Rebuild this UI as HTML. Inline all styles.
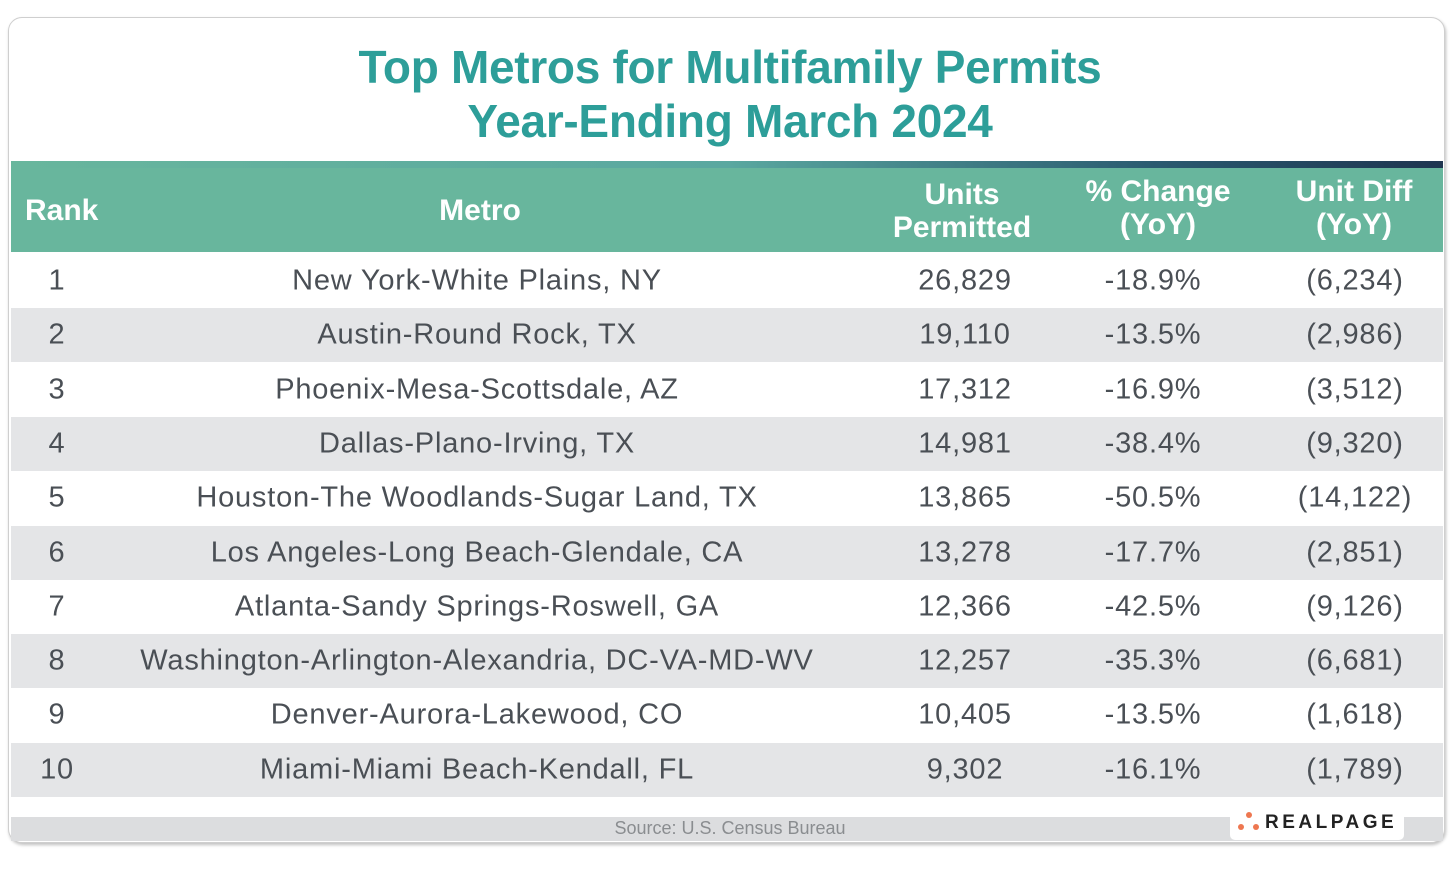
<!DOCTYPE html>
<html><head><meta charset="utf-8"><style>
body{margin:0;width:1455px;height:875px;background:#fff;position:relative;overflow:hidden;font-family:"Liberation Sans",sans-serif}
.card{position:absolute;left:8px;top:17px;width:1435px;height:824px;border-radius:14px;border:1px solid #cfcfcf;box-shadow:1px 2px 3px rgba(0,0,0,.25);overflow:hidden;background:#fff}
.title{position:absolute;left:0;width:1460px;text-align:center;color:#2d9e99;font-weight:bold;font-size:46px;letter-spacing:-0.3px}
.bar{position:absolute;left:11px;width:1432px;top:161px;height:7px;background:linear-gradient(90deg,#68b69d,#5aa8a0 50%,#2a5a70 80%,#1e3550)}
.hdr{position:absolute;left:11px;width:1432px;top:168px;height:84px;background:#68b69d}
.h{position:absolute;color:#fff;font-weight:bold;font-size:30px;text-align:center;line-height:33px}
.row{position:absolute;left:11px;width:1432px;height:54px}
.g{background:#e4e5e7}
.c{position:absolute;color:#4a4f55;font-size:29px;letter-spacing:0.8px;text-align:center;top:50%;transform:translateY(-50%);white-space:nowrap}
.foot{position:absolute;left:11px;width:1432px;top:817px;height:24px;background:#dcdddf}
</style></head><body>
<div class="card"></div>
<div class="title" style="top:40px">Top Metros for Multifamily Permits</div>
<div class="title" style="top:94px">Year-Ending March 2024</div>
<div class="bar"></div>
<div class="hdr"></div>
<div class="h" style="left:25px;top:194px;text-align:left">Rank</div>
<div class="h" style="left:380px;width:200px;top:194px">Metro</div>
<div class="h" style="left:862px;width:200px;top:178px">Units<br>Permitted</div>
<div class="h" style="left:1058px;width:200px;top:175px">% Change<br>(YoY)</div>
<div class="h" style="left:1254px;width:200px;top:175px">Unit Diff<br>(YoY)</div>
<div id="rows"></div>
<script>
var d=[["1","New York-White Plains, NY","26,829","-18.9%","(6,234)"],["2","Austin-Round Rock, TX","19,110","-13.5%","(2,986)"],["3","Phoenix-Mesa-Scottsdale, AZ","17,312","-16.9%","(3,512)"],["4","Dallas-Plano-Irving, TX","14,981","-38.4%","(9,320)"],["5","Houston-The Woodlands-Sugar Land, TX","13,865","-50.5%","(14,122)"],["6","Los Angeles-Long Beach-Glendale, CA","13,278","-17.7%","(2,851)"],["7","Atlanta-Sandy Springs-Roswell, GA","12,366","-42.5%","(9,126)"],["8","Washington-Arlington-Alexandria, DC-VA-MD-WV","12,257","-35.3%","(6,681)"],["9","Denver-Aurora-Lakewood, CO","10,405","-13.5%","(1,618)"],["10","Miami-Miami Beach-Kendall, FL","9,302","-16.1%","(1,789)"]];
var xs=[57,477,965,1153,1355],h="";
d.forEach(function(r,i){var top=254+i*54.3;h+='<div class="row'+(i%2?' g':'')+'" style="top:'+top+'px">';r.forEach(function(t,j){h+='<div class="c" style="left:'+(xs[j]-11-450)+'px;width:900px">'+t+'</div>'});h+='</div>'});
document.getElementById('rows').innerHTML=h;
</script>
<div class="foot"></div>
<div style="position:absolute;left:0;width:1460px;top:818px;text-align:center;color:#8a8d90;font-size:18px">Source: U.S. Census Bureau</div>
<div style="position:absolute;left:1230px;top:817px;width:174px;height:23px;background:#fff;border-radius:0 0 5px 5px"></div>
<div style="position:absolute;left:1238px;width:6px;height:6px;border-radius:50%;background:#ee7750;top:824px"></div>
<div style="position:absolute;left:1246px;top:812px;width:6px;height:6px;border-radius:50%;background:#ee7750"></div>
<div style="position:absolute;left:1253px;top:824px;width:6px;height:6px;border-radius:50%;background:#ee7750"></div>
<div style="position:absolute;left:1265px;top:812px;font-size:19px;font-weight:bold;letter-spacing:3.5px;color:#222">REALPAGE</div>
</body></html>
